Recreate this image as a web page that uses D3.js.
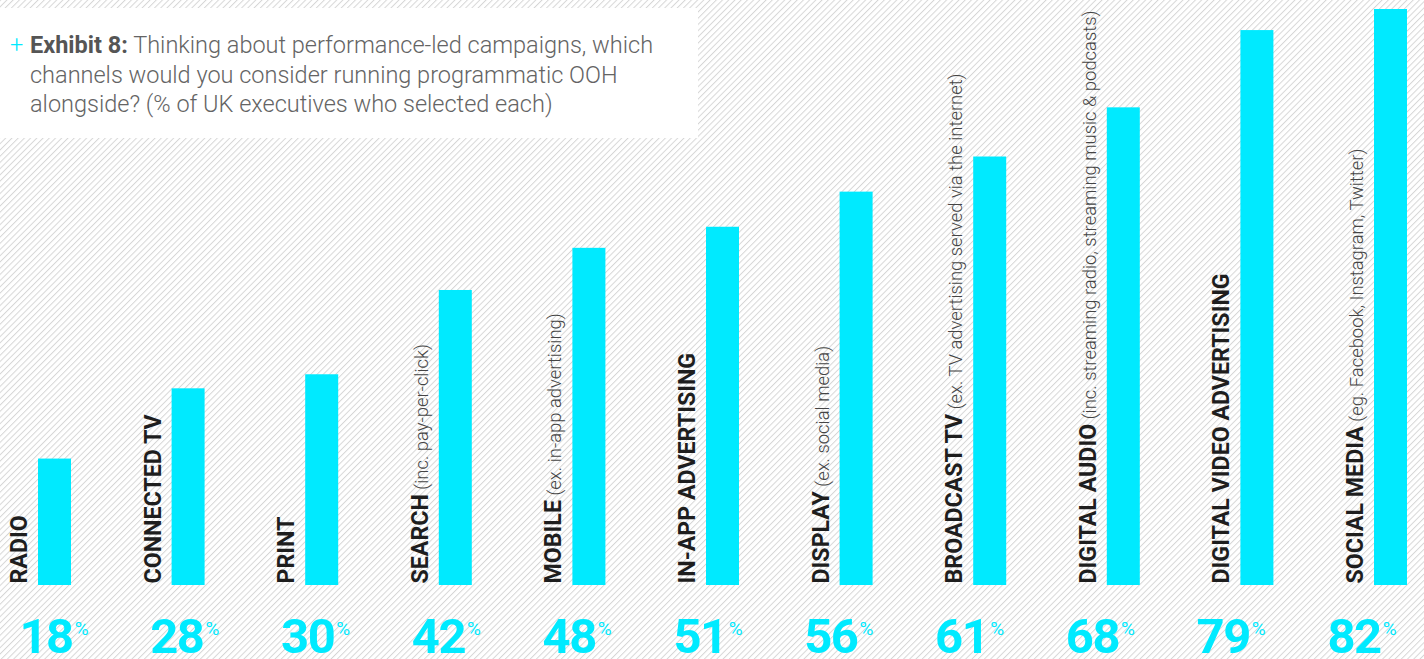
<!DOCTYPE html>
<html>
<head>
<meta charset="utf-8">
<script src="https://cdn.jsdelivr.net/npm/d3@7"></script>
<style>
  html, body { margin: 0; padding: 0; background: #fff; }
  svg { display: block; }
</style>
</head>
<body>
<svg id="chart" width="1424" height="659"></svg>
<script>
// Channels, their qualifying notes and the share of UK executives selecting each
const categories = ["RADIO", "CONNECTED TV", "PRINT", "SEARCH", "MOBILE", "IN-APP ADVERTISING",
  "DISPLAY", "BROADCAST TV", "DIGITAL AUDIO", "DIGITAL VIDEO ADVERTISING", "SOCIAL MEDIA"];
const notes = ["", "", "", "(inc. pay-per-click)", "(ex. in-app advertising)", "",
  "(ex. social media)", "(ex. TV advertising served via the internet)",
  "(inc. streaming radio, streaming music & podcasts)", "",
  "(eg. Facebook, Instagram, Twitter)"];
const values = [18, 28, 30, 42, 48, 51, 56, 61, 68, 79, 82];

const titleLines = [
  ["Exhibit 8:", " Thinking about performance-led campaigns, which"],
  ["", "channels would you consider running programmatic OOH"],
  ["", "alongside? (% of UK executives who selected each)"]
];

const W = 1424, H = 659;
const CYAN = "#00eaff";
const svg = d3.select("#chart");

// Diagonal hatch background
const defs = svg.append("defs");
const pat = defs.append("pattern")
  .attr("id", "hatch")
  .attr("patternUnits", "userSpaceOnUse")
  .attr("width", 4.4).attr("height", 10)
  .attr("patternTransform", "rotate(45)");
pat.append("line")
  .attr("x1", 0.5).attr("y1", 0).attr("x2", 0.5).attr("y2", 10)
  .attr("stroke", "#d6d6d6").attr("stroke-width", 1);
svg.append("rect").attr("width", W).attr("height", H).attr("fill", "#fff");
svg.append("rect").attr("width", W).attr("height", H).attr("fill", "url(#hatch)");

// Scales
const x = d3.scaleBand()
  .domain(categories)
  .range([38, 1407])
  .paddingInner(0.753)
  .paddingOuter(0);
const y = d3.scaleLinear().domain([0, 82]).range([585, 9]);
// Percentage figures sit on a slightly tighter rhythm than the bars
const xVal = d3.scalePoint().domain(categories).range([54, 1362]);

const g = svg.append("g");

// Bars
g.selectAll("rect.bar")
  .data(categories)
  .join("rect")
  .attr("class", "bar")
  .attr("x", d => x(d))
  .attr("width", x.bandwidth())
  .attr("y", (d, i) => y(values[i]))
  .attr("height", (d, i) => y(0) - y(values[i]))
  .attr("fill", CYAN);

// Rotated category labels
const labels = g.selectAll("text.cat")
  .data(categories)
  .join("text")
  .attr("class", "cat")
  .attr("transform", d => `translate(${x(d) - 11},${y(0) - 1.5}) rotate(-90)`)
  .attr("font-family", "Roboto, 'Liberation Sans', sans-serif");
labels.append("tspan")
  .attr("font-weight", 700)
  .attr("font-size", 23.2)
  .attr("fill", "#1e1e1e")
  .text(d => d);
labels.append("tspan")
  .attr("font-weight", 300)
  .attr("font-size", 18.4)
  .attr("fill", "#444")
  .text((d, i) => notes[i] ? " " + notes[i] : "");

// Value labels below the bars
const vals = g.selectAll("text.val")
  .data(categories)
  .join("text")
  .attr("class", "val")
  .attr("x", d => xVal(d))
  .attr("y", 653)
  .attr("text-anchor", "middle")
  .attr("font-family", "Roboto, 'Liberation Sans', sans-serif")
  .attr("font-weight", 700)
  .attr("fill", CYAN);
vals.append("tspan")
  .attr("font-size", 49)
  .attr("letter-spacing", -1.5)
  .text((d, i) => values[i]);
vals.append("tspan")
  .attr("font-size", 19)
  .attr("font-weight", 400)
  .attr("dx", 2)
  .attr("dy", -18)
  .text("%");

// Title panel
svg.append("rect")
  .attr("x", 0).attr("y", 8)
  .attr("width", 698).attr("height", 130)
  .attr("fill", "#fff");

svg.append("text")
  .attr("x", 10).attr("y", 53)
  .attr("font-family", "Roboto, sans-serif")
  .attr("font-size", 23.5)
  .attr("font-weight", 300)
  .attr("fill", CYAN)
  .text("+");

const title = svg.append("text")
  .attr("font-family", "Roboto, sans-serif")
  .attr("font-size", 23.5)
  .attr("fill", "#646464");
titleLines.forEach((ln, i) => {
  const t = title.append("tspan").attr("x", 30).attr("y", 53 + i * 29.5);
  if (ln[0]) t.attr("font-weight", 700).attr("fill", "#555").text(ln[0]);
  else t.attr("font-weight", 300).text(ln[1]);
  if (ln[0]) title.append("tspan").attr("font-weight", 300).text(ln[1]);
});
</script>
</body>
</html>
